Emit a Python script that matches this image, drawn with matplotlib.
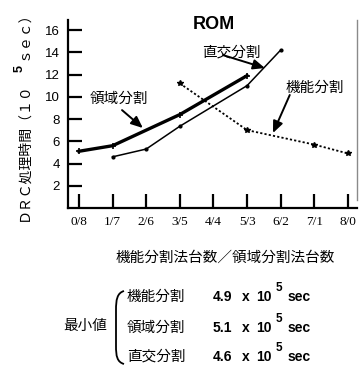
import matplotlib
matplotlib.use("Agg")
import matplotlib.pyplot as plt
from matplotlib.path import Path
from matplotlib.patches import PathPatch

plt.rcParams['font.family'] = ['Noto Sans CJK JP', 'DejaVu Sans']

# Data
x_labels = ["0/8", "1/7", "2/6", "3/5", "4/4", "5/3", "6/2", "7/1", "8/0"]
y_ticks = [2, 4, 6, 8, 10, 12, 14, 16]

ryouiki_x = [0, 1, 3, 5]
ryouiki_y = [5.1, 5.6, 8.4, 11.9]

chokkou_x = [1, 2, 3, 5, 6]
chokkou_y = [4.6, 5.3, 7.35, 11.0, 14.2]

kinou_x = [3, 5, 7, 8]
kinou_y = [11.2, 7.0, 5.7, 4.9]

min_names = ["機能分割", "領域分割", "直交分割"]
min_values = ["4.9", "5.1", "4.6"]

W, H = 359, 368
fig = plt.figure(figsize=(W / 100, H / 100), dpi=100)


def fx(px):
    return px / W


def fy(py):
    return 1 - py / H


ax = fig.add_axes([fx(68), fy(208), fx(357) - fx(68), fy(20) - fy(208)])

ax.plot(ryouiki_x, ryouiki_y, color="black", lw=2.4, marker="+", ms=5, mew=1.2)
ax.plot(chokkou_x, chokkou_y, color="black", lw=1.1, marker="o", ms=2)
ax.plot(kinou_x, kinou_y, color="black", lw=1.3, ls=(0, (1.2, 1.2)),
        marker="*", ms=4)

ax.set_xlim(-0.327, 8.27)
ax.set_ylim(0, 16.9)
ax.set_xticks(range(len(x_labels)))
ax.set_xticklabels(x_labels, family="Liberation Serif", fontsize=9.5)
ax.set_yticks(y_ticks)
ax.set_yticklabels([str(v) for v in y_ticks], family="Liberation Sans",
                   fontsize=9.5)
ax.tick_params(axis="both", direction="in", length=10, width=1.6, pad=6)

for side in ("left", "bottom"):
    ax.spines[side].set_linewidth(1.6)
ax.spines["top"].set_visible(False)
ax.spines["right"].set_color("#8a8a8a")
ax.spines["right"].set_linewidth(1.0)
ax.spines["right"].set_bounds(0.7, 16.9)

ax.text(4.01, 16.5, "ROM", family="Liberation Sans", weight="bold",
        fontsize=13, ha="center", va="center")

arrow = dict(arrowstyle="-|>,head_length=0.7,head_width=0.3", color="black",
             lw=1.4, shrinkA=0, shrinkB=0)
ax.annotate("", xy=(1.90, 7.19), xytext=(1.28, 8.8), arrowprops=arrow)
ax.text(1.19, 9.8, "領域分割", fontsize=10.5, ha="center", va="center")
ax.annotate("", xy=(5.53, 12.58), xytext=(4.28, 13.75), arrowprops=arrow)
ax.text(4.52, 14.0, "直交分割", fontsize=10.5, ha="center", va="center")
ax.annotate("", xy=(5.77, 6.74), xytext=(6.27, 10.16), arrowprops=arrow)
ax.text(7.02, 10.79, "機能分割", fontsize=10.5, ha="center", va="center")

# Vertical axis title
fig.text(fx(24), fy(221), "ＤＲＣ処理時間（１０", rotation=90, fontsize=10,
         ha="center", va="bottom")
fig.text(fx(20), fy(68), "5", rotation=90, family="Liberation Sans",
         weight="bold", fontsize=9, ha="center", va="center")
fig.text(fx(24), fy(60), "ｓｅｃ）", rotation=90, fontsize=10,
         ha="center", va="bottom")

# Horizontal axis title
fig.text(fx(225), fy(258), "機能分割法台数／領域分割法台数", fontsize=10.5,
         ha="center", va="center")

# Minimum values
fig.text(fx(63), fy(326), "最小値", fontsize=10.5, ha="left", va="center")
brace = Path(
    [(fx(124), fy(291)), (fx(117), fy(293)), (fx(116), fy(300)), (fx(116), fy(310)),
     (fx(116), fy(346)),
     (fx(116), fy(356)), (fx(117), fy(362)), (fx(124), fy(364))],
    [Path.MOVETO, Path.CURVE4, Path.CURVE4, Path.CURVE4,
     Path.LINETO,
     Path.CURVE4, Path.CURVE4, Path.CURVE4])
fig.add_artist(PathPatch(brace, fill=False, lw=1.3, color="black",
                         transform=fig.transFigure))

bold = dict(family="Liberation Sans", weight="bold", va="center", ha="left")
row_y = [297, 328, 357]
for name, val, ry in zip(min_names, min_values, row_y):
    fig.text(fx(127), fy(ry), name, fontsize=10.5, ha="left", va="center")
    fig.text(fx(213), fy(ry), val, fontsize=10, **bold)
    fig.text(fx(242), fy(ry), "x", fontsize=10, **bold)
    fig.text(fx(256), fy(ry), "10", fontsize=10, **bold)
    fig.text(fx(276), fy(ry - 9), "5", fontsize=8.5, **bold)
    fig.text(fx(288), fy(ry), "sec", fontsize=10, **bold)

fig.savefig("out.png", dpi=100)
